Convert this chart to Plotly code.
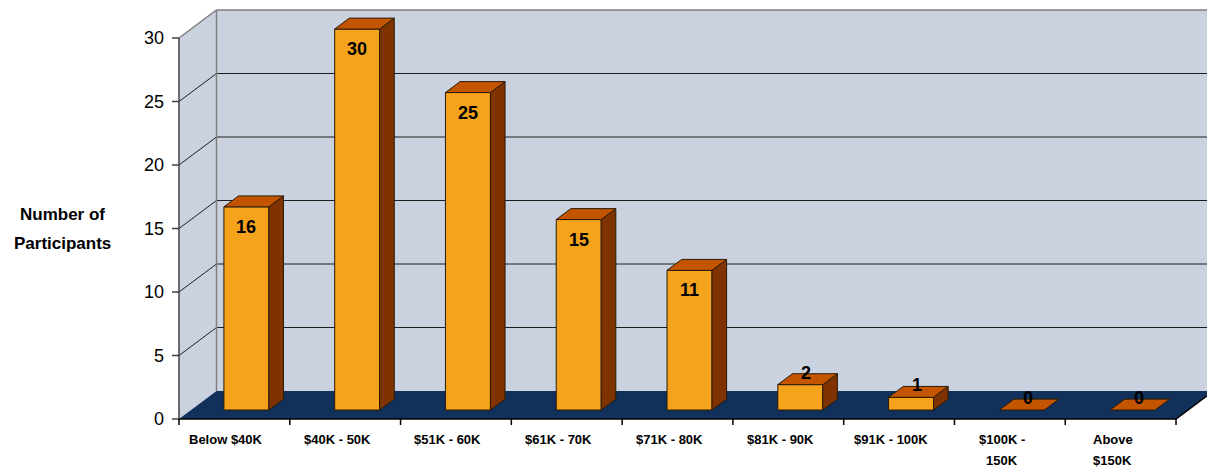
import plotly.graph_objects as go

# ---------------- data ----------------
categories = [["Below $40K"], ["$40K - 50K"], ["$51K - 60K"], ["$61K - 70K"],
              ["$71K - 80K"], ["$81K - 90K"], ["$91K - 100K"],
              ["$100K -", "150K"], ["Above", "$150K"]]
values = [16, 30, 25, 15, 11, 2, 1, 0, 0]
y_ticks = [0, 5, 10, 15, 20, 25, 30]
y_title_lines = ["Number of", "Participants"]

# ---------------- geometry (oblique 3-D projection) ----------------
W, H = 1207, 470
PX_X = 110.78          # px per category
PX_Y = 12.7            # px per unit value
DX = 37.5 / PX_X       # depth offset in x units
DY = 28.0 / PX_Y       # depth offset in y units
D0, D1 = 0.32, 0.71    # bar front/back depth fractions
HW = 0.203             # half bar width (category units)
YMAX = max(y_ticks)
N = len(values)

plot_left, plot_right = 171, W
plot_top, plot_bottom = 8, 426
x_axis_px = 179
y0_px = 419
XMIN = (plot_left - x_axis_px) / PX_X
XMAX = (plot_right - x_axis_px) / PX_X
YMIN = -(plot_bottom - y0_px) / PX_Y
YTOP = (y0_px - plot_top) / PX_Y

WALL = "#CBD2DF"
FLOOR = "#11305A"
FRONT = "#F5A21D"
TOP = "#C45500"
SIDE = "#7E3300"
EDGE = "#2A1A08"

fig = go.Figure()


def poly(xs, ys, fill, line_color=None, width=0):
    fig.add_trace(go.Scatter(
        x=xs, y=ys, mode="lines", fill="toself", fillcolor=fill,
        line=dict(color=line_color or fill, width=width),
        hoverinfo="skip", showlegend=False))


def lines(xs, ys, color, width=1):
    fig.add_trace(go.Scatter(
        x=xs, y=ys, mode="lines", line=dict(color=color, width=width),
        hoverinfo="skip", showlegend=False))


# walls
poly([0, DX, DX, 0, 0], [0, DY, YMAX + DY, YMAX, 0], WALL)
poly([DX, XMAX, XMAX, DX, DX], [DY, DY, YMAX + DY, YMAX + DY, DY], WALL)
# floor
poly([0, N, N + DX, DX, 0], [0, 0, DY, DY, 0], FLOOR)

# gridlines
gx, gy = [], []
for v in y_ticks[1:-1]:
    gx += [0, DX, XMAX, None]
    gy += [v, v + DY, v + DY, None]
lines(gx, gy, "#1E1E1E", 1)
# wall edges (grey)
lines([0, DX, XMAX, None, DX, DX], [YMAX, YMAX + DY, YMAX + DY, None, DY, YMAX + DY], "#7F7F7F", 1.5)
# front y-axis line and ticks
tx, ty = [0, 0, None], [0, YMAX, None]
for v in y_ticks:
    tx += [-7 / PX_X, 0, None]
    ty += [v, v, None]
lines(tx, ty, "#404040", 1.5)
# floor front edge + x ticks
fx, fy = [0, N, N + DX, None], [0, 0, DY, None]
for i in range(N + 1):
    fx += [i, i, None]
    fy += [0, -6 / PX_Y, None]
lines(fx, fy, "#000000", 1.5)

# bars
fr_x, fr_y, sd_x, sd_y, tp_x, tp_y = [], [], [], [], [], []
ddx, ddy = (D1 - D0) * DX, (D1 - D0) * DY
annotations = []
for i, v in enumerate(values):
    cx = i + 0.5 + D0 * DX
    xl, xr = cx - HW, cx + HW
    yb = D0 * DY
    yt = v + yb
    if v > 0:
        fr_x += [xl, xr, xr, xl, xl, None]
        fr_y += [yb, yb, yt, yt, yb, None]
        sd_x += [xr, xr + ddx, xr + ddx, xr, xr, None]
        sd_y += [yb, yb + ddy, yt + ddy, yt, yb, None]
    tp_x += [xl, xr, xr + ddx, xl + ddx, xl, None]
    tp_y += [yt, yt, yt + ddy, yt + ddy, yt, None]
    if v >= 5:
        annotations.append(dict(x=cx, y=yt, yshift=-20, text=f"<b>{v}</b>",
                                showarrow=False, font=dict(size=18, color="black")))
    else:
        annotations.append(dict(x=cx, y=yt, xshift=6, yshift=12, text=f"<b>{v}</b>",
                                showarrow=False, font=dict(size=18, color="black")))

poly(fr_x, fr_y, FRONT, EDGE, 1)
poly(sd_x, sd_y, SIDE, EDGE, 1)
poly(tp_x, tp_y, TOP, EDGE, 1)

# category labels
for i, lab in enumerate(categories):
    for k, line in enumerate(lab):
        annotations.append(dict(x=i + 0.5, y=0, xshift=-8, yshift=-20 - 21 * k,
                                yanchor="middle", text=f"<b>{line}</b>", showarrow=False,
                                font=dict(size=13, color="black")))

# y title
for k, line in enumerate(y_title_lines):
    annotations.append(dict(xref="paper", yref="paper", x=(62 - plot_left) / (plot_right - plot_left),
                            y=(plot_bottom - (214 + 29 * k)) / (plot_bottom - plot_top),
                            xanchor="center", yanchor="middle", text=f"<b>{line}</b>",
                            showarrow=False, font=dict(size=17, color="black")))

fig.update_layout(
    width=W, height=H,
    margin=dict(l=plot_left, r=W - plot_right, t=plot_top, b=H - plot_bottom, pad=0),
    paper_bgcolor="white", plot_bgcolor="white",
    font=dict(family="Arial, Liberation Sans, sans-serif", color="black"),
    xaxis=dict(range=[XMIN, XMAX], showgrid=False, zeroline=False, showticklabels=False,
               ticks="", showline=False, fixedrange=True),
    yaxis=dict(range=[YMIN, YTOP], showgrid=False, zeroline=False, tickvals=y_ticks,
               ticktext=[str(t) for t in y_ticks], ticks="", showline=False,
               ticklabelstandoff=6, tickfont=dict(size=18, color="black"), fixedrange=True),
    annotations=annotations,
    showlegend=False,
)

fig.write_html("out.html")
